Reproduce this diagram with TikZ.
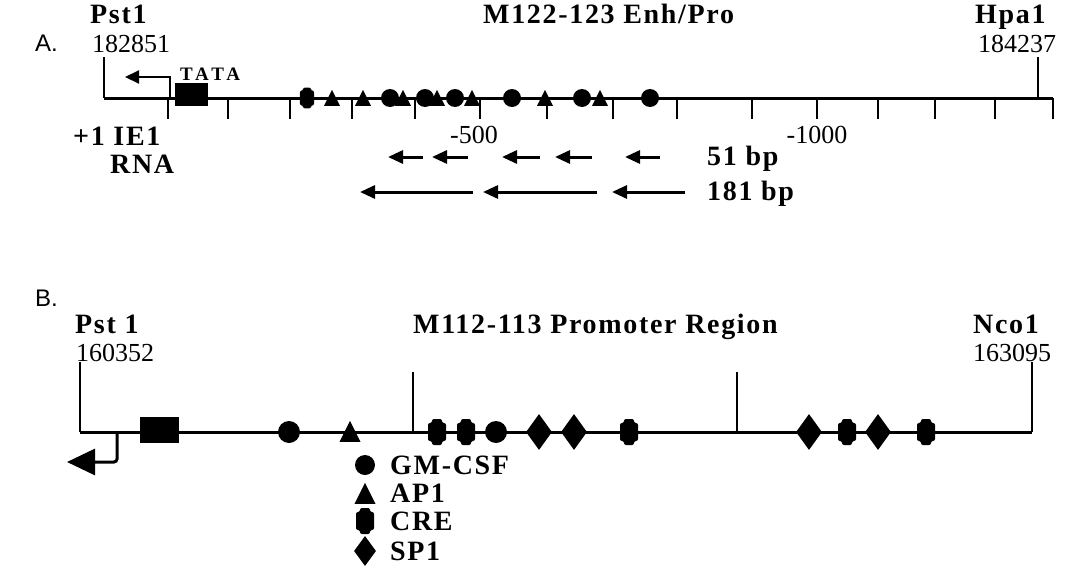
\documentclass[tikz,border=0pt]{standalone}
\usepackage{fontspec}
\setmainfont{Liberation Serif}
\newfontfamily\labelfont[LetterSpace=6]{Liberation Serif}
\newfontfamily\tatafont[LetterSpace=20]{Liberation Serif}
\newfontfamily\panelfont{Liberation Sans}
\usetikzlibrary{arrows.meta, shapes.geometric}

\begin{document}
\begin{tikzpicture}[
  x=1pt, y=-1pt,
  dna/.style={line width=3pt},
  site/.style={line width=1.4pt},
  tick/.style={line width=1.6pt},
  tss/.style={line width=2pt, -{Triangle[length=14pt, width=13pt]}},
  bigtss/.style={line width=3pt, rounded corners=3pt, -{Triangle[length=28pt, width=26pt]}},
  probe/.style={line width=3pt, -{Triangle[length=15pt, width=13pt]}},
  bold/.style={font=\labelfont\bfseries\fontsize{28}{32}\selectfont, inner sep=0pt},
  num/.style={font=\fontsize{26}{30}\selectfont, inner sep=0pt},
  panel/.style={font=\panelfont\fontsize{24}{28}\selectfont, inner sep=0pt},
  tata/.style={font=\tatafont\bfseries\fontsize{19}{21}\selectfont, inner sep=0pt},
  gmcsf/.style={circle, fill, inner sep=0pt, minimum size=#1},
  gmcsf/.default=20pt,
  apone/.style={isosceles triangle, isosceles triangle stretches, shape border rotate=90,
    fill, inner sep=0pt, minimum width=#1, minimum height=#1, anchor=lower side},
  apone/.default=14pt,
  spone/.style={diamond, fill, inner sep=0pt, minimum width=26pt, minimum height=36pt},
  tatabox/.style={fill, inner sep=0pt},
  cre/.pic={\fill[rounded corners=2pt] (-5,-13) -- (5,-13) -- (5,-9) -- (9,-9) -- (9,9) -- (5,9)
    -- (5,13) -- (-5,13) -- (-5,9) -- (-9,9) -- (-9,-9) -- (-5,-9) -- cycle;}
]
\useasboundingbox (0,0) rectangle (1085,573);

% A. M122-123 enhancer / promoter
\node[panel, anchor=base west] (lblA) at (35,51) {A.};
\node[bold, anchor=base west] (pstA) at (90,23) {Pst1};
\node[num, anchor=base west] (posPstA) at (92,52) {182851};
\node[bold, anchor=base west] (titleA) at (483,23) {M122-123 Enh/Pro};
\node[bold, anchor=base west] (hpa) at (975,23) {Hpa1};
\node[num, anchor=base west] (posHpa) at (978,52) {184237};

\coordinate (leftA) at (104,98);
\coordinate (rightA) at (1053,98);
\draw[dna] (leftA) -- (rightA);
\draw[site] (104,57) -- (leftA);
\draw[site] (1038,57) -- (1038,98);
\foreach \x in {168,228,290,352,415,480,547,613,677,752,817,878,935,995,1053}
  \draw[tick] (\x,98) -- (\x,119);

\node[tatabox, minimum width=33pt, minimum height=23pt] (boxA) at (191.5,94.5) {};
\node[tata, anchor=base west] (tataA) at (180,80) {TATA};
\coordinate (startA) at (170,98);
\coordinate (tipA) at (125,77);
\draw[tss] (startA) |- (tipA);

\pic[scale=0.8] (creA) at (307,98) {cre};
\foreach \x in {390,425,455,512,582,650}
  \node[gmcsf=18pt] (gmA\x) at (\x,98) {};
\foreach \x in {332,363,403,437,472,545,600}
  \node[apone=16pt] (apA\x) at (\x,106) {};

\node[bold, anchor=base west] (ie) at (73,145) {+1 IE1};
\node[bold, anchor=base west] (rna) at (110,173) {RNA};
\node[num, anchor=base] (m500) at (474,143) {-500};
\node[num, anchor=base] (m1000) at (817,143) {-1000};

\foreach \a/\b [count=\i] in {423/388,468/432,540/502,592/555,660/625} {
  \coordinate (ps\i) at (\a,157);
  \coordinate (pe\i) at (\b,157);
  \draw[probe] (ps\i) -- (pe\i);
}
\foreach \a/\b [count=\i] in {473/360,597/483,685/612} {
  \coordinate (ls\i) at (\a,192);
  \coordinate (le\i) at (\b,192);
  \draw[probe] (ls\i) -- (le\i);
}
\node[bold, anchor=base west] (bp51) at (707,165) {51 bp};
\node[bold, anchor=base west] (bp181) at (707,200) {181 bp};

% B. M112-113 promoter
\node[panel, anchor=base west] (lblB) at (35,306) {B.};
\node[bold, anchor=base west] (pstB) at (75,333) {Pst 1};
\node[num, anchor=base west] (posPstB) at (76,361) {160352};
\node[bold, anchor=base west] (titleB) at (413,333) {M112-113 Promoter Region};
\node[bold, anchor=base west] (nco) at (973,333) {Nco1};
\node[num, anchor=base west] (posNco) at (973,361) {163095};

\coordinate (leftB) at (80,432);
\coordinate (rightB) at (1032,432);
\draw[dna] (leftB) -- (rightB);
\draw[site] (80,362) -- (leftB);
\draw[site] (413,372) -- (413,432);
\draw[site] (737,372) -- (737,432);
\draw[site] (1032,362) -- (rightB);

\node[tatabox, minimum width=39pt, minimum height=26pt] (boxB) at (159.5,430) {};
\coordinate (startB) at (117,432);
\coordinate (tipB) at (67,462);
\draw[bigtss] (startB) |- (tipB);

\foreach \x in {289,496}
  \node[gmcsf=22pt] (gmB\x) at (\x,432) {};
\node[apone=21pt] (apB) at (350,442) {};
\foreach \x in {437,466,629,847,926}
  \pic (creB\x) at (\x,432) {cre};
\foreach \x in {539,574,809,878}
  \node[spone] (spB\x) at (\x,432) {};

% legend
\node[gmcsf=20pt] (keyGm) at (365,465) {};
\node[apone=21pt] (keyAp) at (365,504) {};
\pic (keyCre) at (365,521) {cre};
\node[spone, minimum width=22pt, minimum height=30pt] (keySp) at (365,551) {};
\node[bold, anchor=base west] (txtGm) at (390,474) {GM-CSF};
\node[bold, anchor=base west] (txtAp) at (390,502) {AP1};
\node[bold, anchor=base west] (txtCre) at (390,530) {CRE};
\node[bold, anchor=base west] (txtSp) at (390,560) {SP1};
\end{tikzpicture}
\end{document}
